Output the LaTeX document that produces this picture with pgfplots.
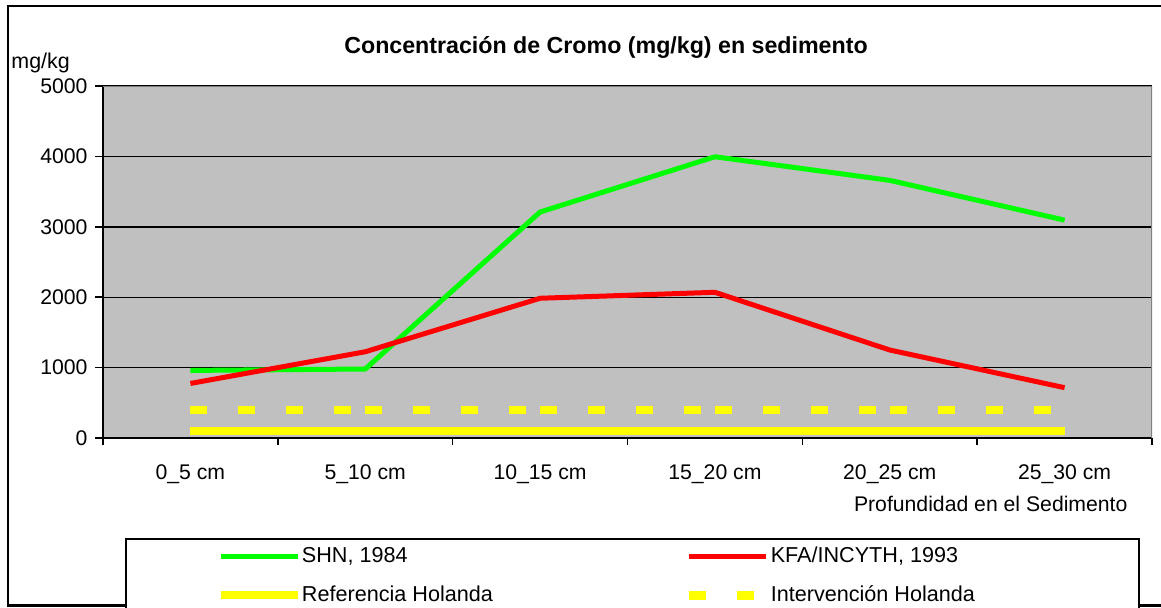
\documentclass[border=0pt]{standalone}
\usepackage{fontspec}
\setmainfont{Liberation Sans}
\usepackage{pgfplots}
\pgfplotsset{compat=1.18}
\definecolor{bggray}{RGB}{192,192,192}
\definecolor{xlgreen}{RGB}{0,255,0}
\definecolor{xlred}{RGB}{255,0,0}
\definecolor{xlyellow}{RGB}{255,255,0}
\definecolor{xlborder}{RGB}{128,128,128}
\begin{document}
\fontsize{10.7}{12}\selectfont
\begin{tikzpicture}
\useasboundingbox (-51.5pt,-84.5pt) rectangle (529pt,219pt);
\draw[line width=1.3pt] (-47.5pt,-83.6pt) rectangle (545pt,216pt);
\begin{axis}[
  at={(0pt,0pt)}, anchor=south west,
  scale only axis, width=524.5pt, height=176pt,
  xmin=-0.5, xmax=5.5, ymin=0, ymax=5000,
  axis background/.style={fill=bggray},
  axis x line*=bottom, axis y line*=left,
  axis line style={line width=0.9pt, black},
  ytick={0,1000,2000,3000,4000,5000},
  ymajorgrids, major grid style={black, line width=0.7pt},
  xtick={0,1,2,3,4,5},
  xticklabels={0\_5 cm,5\_10 cm,10\_15 cm,15\_20 cm,20\_25 cm,25\_30 cm},
  major x tick style={draw=none},
  minor xtick={-0.5,0.5,1.5,2.5,3.5,4.5,5.5},
  tick align=outside, major tick length=4pt, minor tick length=3.5pt,
  tick style={black, line width=0.8pt},
  /pgf/number format/assume math mode=true,
  /pgf/number format/set thousands separator={},
  ticklabel style={font=\fontsize{10.6}{12}\selectfont},
  yticklabel style={anchor=east},
  xticklabel style={yshift=-5.5pt},
  title={Concentración de Cromo (mg/kg) en sedimento},
  every axis title/.style={at={(0.4795,1.1108)}, anchor=center, font=\bfseries\fontsize{11.6}{13}\selectfont},
  xlabel={Profundidad en el Sedimento},
  every axis x label/.style={at={(0.9838,-0.1875)}, anchor=east, font=\fontsize{10.6}{12}\selectfont},
  ylabel={mg/kg},
  every axis y label/.style={at={(-0.0944,1.0653)}, anchor=west, font=\fontsize{10.7}{12}\selectfont},
  legend columns=2, legend cell align=left,
  legend image code/.code={\draw[#1] (0pt,0pt) -- (38.5pt,0pt);},
  legend style={at={(0.02097,-0.2841)}, anchor=north west, draw=black, line width=1pt,
    inner xsep=45.5pt, inner ysep=2pt, row sep=6pt, font=\fontsize{10.8}{12}\selectfont,
    nodes={inner xsep=0pt}},
  unbounded coords=jump,
]
\addplot[xlgreen, line width=2.5pt, line join=round] coordinates {
  (0,960) (1,980) (2,3210) (3,3995) (4,3660) (5,3095)};
\addlegendentry{\makebox[191.6pt][l]{SHN, 1984}}
\addplot[xlred, line width=2.5pt, line join=round] coordinates {
  (0,775) (1,1225) (2,1985) (3,2070) (4,1250) (5,715)};
\addlegendentry{\makebox[138.6pt][l]{KFA/INCYTH, 1993}}
\addplot[xlyellow, line width=4pt] coordinates {
  (0,100) (1,100) (2,100) (3,100) (4,100) (5,100)};
\addlegendentry{\makebox[191.6pt][l]{Referencia Holanda}}
\addplot[xlyellow, line width=4.3pt, dash pattern=on 8.5pt off 15.5pt] coordinates {
  (0,400) (1,400) (1,nan) (1,400) (2,400) (2,nan) (2,400) (3,400) (3,nan)
  (3,400) (4,400) (4,nan) (4,400) (5,400)};
\addlegendentry{\makebox[138.6pt][l]{Intervención Holanda}}
\draw[xlborder, line width=1pt] (rel axis cs:0,1) -- (rel axis cs:1,1) -- (rel axis cs:1,0);
\end{axis}
\end{tikzpicture}
\end{document}
